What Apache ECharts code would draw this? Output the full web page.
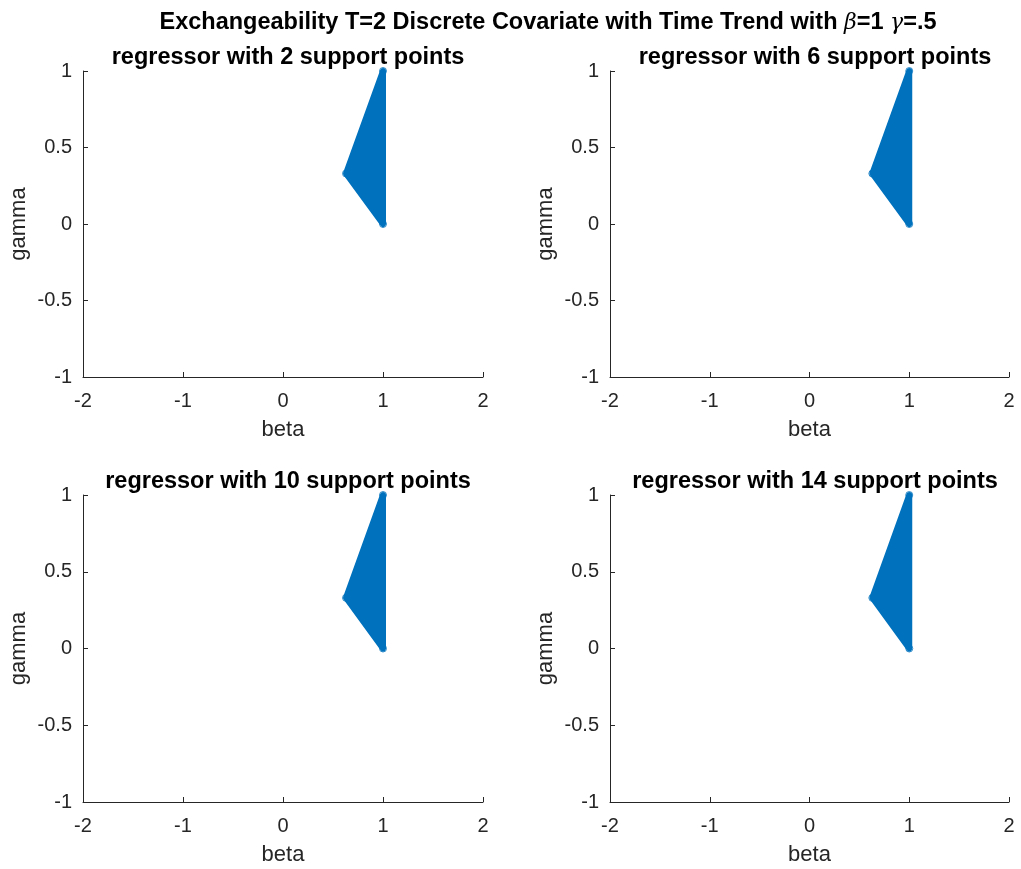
<!DOCTYPE html>
<html><head><meta charset="utf-8">
<script src="https://cdn.jsdelivr.net/npm/echarts@6/dist/echarts.min.js"></script>
<style>html,body{margin:0;padding:0;background:#fff}#c{width:1021px;height:869px}</style>
</head><body><div id="c"></div>
<script>
// Data: vertices of the estimated identified region (beta, gamma) in each panel
const panelTitles = ['regressor with 2 support points','regressor with 6 support points','regressor with 10 support points','regressor with 14 support points'];
const beta2  = [1.00, 0.63, 1.00];
const gamma2 = [1.00, 0.33, 0.00];
const beta6  = [1.00, 0.63, 1.00];
const gamma6 = [1.00, 0.33, 0.00];
const beta10  = [1.00, 0.63, 1.00];
const gamma10 = [1.00, 0.33, 0.00];
const beta14  = [1.00, 0.63, 1.00];
const gamma14 = [1.00, 0.33, 0.00];
const xTicks = [-2,-1,0,1,2];
const yTicks = [-1,-0.5,0,0.5,1];

const betas = [beta2, beta6, beta10, beta14];
const gammas = [gamma2, gamma6, gamma10, gamma14];

const FONT = '"Liberation Sans", Arial, Helvetica, sans-serif';
const AX = '#262626';
const BLUE = '#0072BD';
const grids = [
  {left:83, width:400, top:71, height:306},
  {left:610, width:399, top:71, height:306},
  {left:83, width:400, top:495, height:307},
  {left:610, width:399, top:495, height:307}
];
const titleCenters = [[283,41],[810,41],[283,465],[810,465]];

const xAxes = [], yAxes = [], series = [], titles = [];
titles.push({
  text: 'Exchangeability T=2 Discrete Covariate with Time Trend with {i|β}=1 {i|γ}=.5',
  left: 543, top: 6, textAlign: 'center',
  textStyle: {fontFamily: FONT, fontSize: 23.5, fontWeight: 'bold', color: '#000',
    rich: {i: {fontFamily: '"DejaVu Serif", serif', fontStyle: 'italic', fontSize: 22, fontWeight: 'normal', color: '#000'}}}
});
grids.forEach((g, i) => {
  titles.push({text: panelTitles[i], left: titleCenters[i][0], top: titleCenters[i][1], textAlign: 'center',
    textStyle: {fontFamily: FONT, fontSize: 23.5, fontWeight: 'bold', color: '#000'}});
  xAxes.push({gridIndex: i, type: 'value', min: xTicks[0], max: xTicks[xTicks.length-1], interval: 1,
    name: 'beta', nameLocation: 'middle', nameGap: 42,
    nameTextStyle: {fontFamily: FONT, fontSize: 22, color: AX},
    axisLine: {show: true, onZero: false, lineStyle: {color: AX, width: 1}},
    axisTick: {show: true, inside: true, length: 5, lineStyle: {color: AX}},
    axisLabel: {fontFamily: FONT, fontSize: 20, color: AX, margin: 14},
    splitLine: {show: false}});
  yAxes.push({gridIndex: i, type: 'value', min: yTicks[0], max: yTicks[yTicks.length-1], interval: 0.5,
    name: 'gamma', nameLocation: 'middle', nameGap: 53,
    nameTextStyle: {fontFamily: FONT, fontSize: 22, color: AX},
    axisLine: {show: true, onZero: false, lineStyle: {color: AX, width: 1}},
    axisTick: {show: true, inside: true, length: 5, lineStyle: {color: AX}},
    axisLabel: {fontFamily: FONT, fontSize: 20, color: AX, margin: 11},
    splitLine: {show: false}});
  const data = betas[i].map((b, k) => [b, gammas[i][k]]);
  series.push({
    type: 'custom', xAxisIndex: i, yAxisIndex: i, coordinateSystem: 'cartesian2d',
    data: [0],
    encode: {x: [], y: []},
    renderItem: function(params, api) {
      const pts = data.map(p => api.coord(p));
      return {type: 'polygon', shape: {points: pts},
        style: {fill: BLUE, stroke: BLUE, lineWidth: 6, lineJoin: 'round'}};
    },
    silent: true, clip: false
  });
  series.push({
    type: 'scatter', xAxisIndex: i, yAxisIndex: i, data: data, symbol: 'circle', symbolSize: 7,
    itemStyle: {color: 'none', borderColor: BLUE, borderWidth: 1}, silent: true
  });
});

const chart = echarts.init(document.getElementById('c'), null, {renderer: 'canvas'});
chart.setOption({
  animation: false, backgroundColor: '#fff',
  title: titles, grid: grids, xAxis: xAxes, yAxis: yAxes, series: series
});
</script></body></html>
